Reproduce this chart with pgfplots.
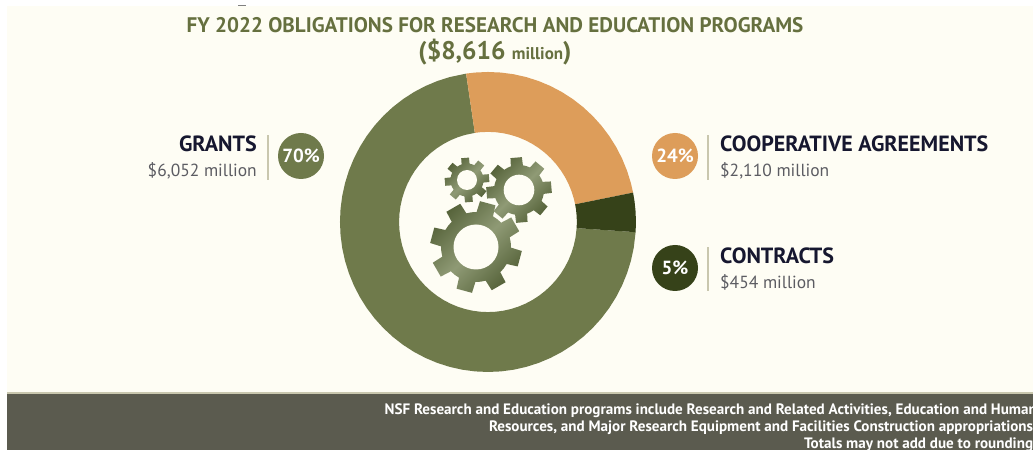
\documentclass[border=0pt]{standalone}
\usepackage{pgfplots}
\pgfplotsset{compat=1.18}
\usepackage{fontspec}
\setmainfont{PT Sans}
\usetikzlibrary{calc}
\definecolor{bgc}{HTML}{FEFDF4}
\definecolor{olivec}{HTML}{6F7A4B}
\definecolor{orangec}{HTML}{DD9D5A}
\definecolor{darkc}{HTML}{364219}
\definecolor{footc}{HTML}{5B5B4F}
\definecolor{titlec}{HTML}{66703F}
\definecolor{navyc}{HTML}{16172F}
\definecolor{grayc}{HTML}{5C5C62}
\definecolor{barc}{HTML}{C9C7AE}
\definecolor{geard}{HTML}{56633A}
\definecolor{gearl}{HTML}{8F9A75}
% gear: cx, cy, tip r, root r, hole r, phase, half tooth at tip (deg), half tooth at root (deg)
\newcommand{\gear}[8]{%
  \shade[top color=geard,bottom color=geard,middle color=gearl,shading angle=45]
    ($(#1,#2)+(#6-#8:#4)$)
    \foreach \k in {0,...,7}{
      -- ($(#1,#2)+(#6+45*\k-#8:#4)$)
      -- ($(#1,#2)+(#6+45*\k-#7:#3)$)
      -- ($(#1,#2)+(#6+45*\k+#7:#3)$)
      -- ($(#1,#2)+(#6+45*\k+#8:#4)$)
      -- ($(#1,#2)+(#6+45*\k+22.5:#4)$)
    } -- cycle;
  \fill[bgc] (#1,#2) circle (#5);
}
\begin{document}
\begin{tikzpicture}
\useasboundingbox (0,0) rectangle (1033pt,450pt);
\clip (0,0) rectangle (1033pt,450pt);
\fill[white] (0,0) rectangle (1033pt,450pt);
\fill[bgc] (7pt,0) rectangle (1033pt,444pt);
\begin{axis}[at={(0,0)},anchor=south west,hide axis,scale only axis,
  width=1033pt,height=450pt,xmin=-491.3,xmax=548.7,ymin=-226.5,ymax=220.5,clip=true]
% Grants
\addplot[fill=olivec,draw=none,data cs=polar] coordinates {
(98.5,149)(105,149)(110,149)(115,149)(120,149)(125,149)(130,149)(135,149)(140,149)(145,149)(150,149)(155,149)(160,149)(165,149)(170,149)(175,149)(180,149)(185,149)(190,149)(195,149)(200,149)(205,149)(210,149)(215,149)(220,149)(225,149)(230,149)(235,149)(240,149)(245,149)(250,149)(255,149)(260,149)(265,149)(270,149)(275,149)(280,149)(285,149)(290,149)(295,149)(300,149)(305,149)(310,149)(315,149)(320,149)(325,149)(330,149)(335,149)(340,149)(345,149)(350,149)(356.1,149)
(356.1,89.5)(350,89.5)(345,89.5)(340,89.5)(335,89.5)(330,89.5)(325,89.5)(320,89.5)(315,89.5)(310,89.5)(305,89.5)(300,89.5)(295,89.5)(290,89.5)(285,89.5)(280,89.5)(275,89.5)(270,89.5)(265,89.5)(260,89.5)(255,89.5)(250,89.5)(245,89.5)(240,89.5)(235,89.5)(230,89.5)(225,89.5)(220,89.5)(215,89.5)(210,89.5)(205,89.5)(200,89.5)(195,89.5)(190,89.5)(185,89.5)(180,89.5)(175,89.5)(170,89.5)(165,89.5)(160,89.5)(155,89.5)(150,89.5)(145,89.5)(140,89.5)(135,89.5)(130,89.5)(125,89.5)(120,89.5)(115,89.5)(110,89.5)(105,89.5)(98.5,89.5)
} --cycle;
% Cooperative agreements
\addplot[fill=orangec,draw=none,data cs=polar] coordinates {
(98.5,149)(95,149)(90,149)(85,149)(80,149)(75,149)(70,149)(65,149)(60,149)(55,149)(50,149)(45,149)(40,149)(35,149)(30,149)(25,149)(20,149)(15,149)(11.3,149)
(11.3,89.5)(15,89.5)(20,89.5)(25,89.5)(30,89.5)(35,89.5)(40,89.5)(45,89.5)(50,89.5)(55,89.5)(60,89.5)(65,89.5)(70,89.5)(75,89.5)(80,89.5)(85,89.5)(90,89.5)(95,89.5)(98.5,89.5)
} --cycle;
% Contracts
\addplot[fill=darkc,draw=none,data cs=polar] coordinates {
(11.3,149)(8,149)(4,149)(0,149)(-3.9,149)(-3.9,89.5)(0,89.5)(4,89.5)(8,89.5)(11.3,89.5)
} --cycle;
\end{axis}
\begin{scope}[x=1pt,y=-1pt,shift={(0,450pt)}]
\fill[footc] (7,393) rectangle (1033,450);
\fill[barc] (7,392) rectangle (1033,393.5);
\fill[gray] (238,5) rectangle (246,6);
\gear{476}{247}{46pt}{35pt}{22.5pt}{30}{10}{14}
\gear{519}{190}{33pt}{25pt}{15.3pt}{5}{10}{14}
\gear{467}{180}{22.5pt}{16.5pt}{10pt}{5}{10}{14}
\node[text=titlec,font=\bfseries\fontsize{21.1}{21}\selectfont,inner sep=0] at (495,25) {FY 2022 OBLIGATIONS FOR RESEARCH AND EDUCATION PROGRAMS};
\node[text=titlec,inner sep=0,font=\bfseries\fontsize{25.5}{25}\selectfont] at (495,52) {(\$8,616 \fontsize{17}{17}\selectfont million\fontsize{25.5}{25}\selectfont)};
\foreach \cx/\cy/\col/\t in {301/156/olivec/70\%,675/156/orangec/24\%,675/268/darkc/5\%}
  {\fill[\col] (\cx,\cy) circle (23pt);
   \node[text=white,font=\bfseries\fontsize{19}{19}\selectfont,inner sep=0] at (\cx,\cy) {\t};}
\fill[barc] (267,135) rectangle (269,180);
\fill[barc] (707,135) rectangle (709,180);
\fill[barc] (707,247) rectangle (709,291);
\tikzset{hd/.style={text=navyc,font=\bfseries\fontsize{22}{22}\selectfont,inner sep=0},
  sb/.style={text=grayc,font=\fontsize{17.5}{17.5}\selectfont,inner sep=0}}
\node[hd,anchor=base east] at (257,152) {GRANTS};
\node[sb,anchor=base east] at (257,177) {\$6,052 million};
\node[hd,anchor=base west] at (720,152) {COOPERATIVE AGREEMENTS};
\node[sb,anchor=base west] at (720,177) {\$2,110 million};
\node[hd,anchor=base west] at (720,264) {CONTRACTS};
\node[sb,anchor=base west] at (720,289) {\$454 million};
\tikzset{ft/.style={text=white,font=\bfseries\fontsize{15.1}{15}\selectfont,inner sep=0,anchor=base east}}
\node[ft] at (1037,414) {NSF Research and Education programs include Research and Related Activities, Education and Human};
\node[ft] at (1037,431) {Resources, and Major Research Equipment and Facilities Construction appropriations.};
\node[ft] at (1037,448) {Totals may not add due to rounding.};
\end{scope}
\end{tikzpicture}
\end{document}
